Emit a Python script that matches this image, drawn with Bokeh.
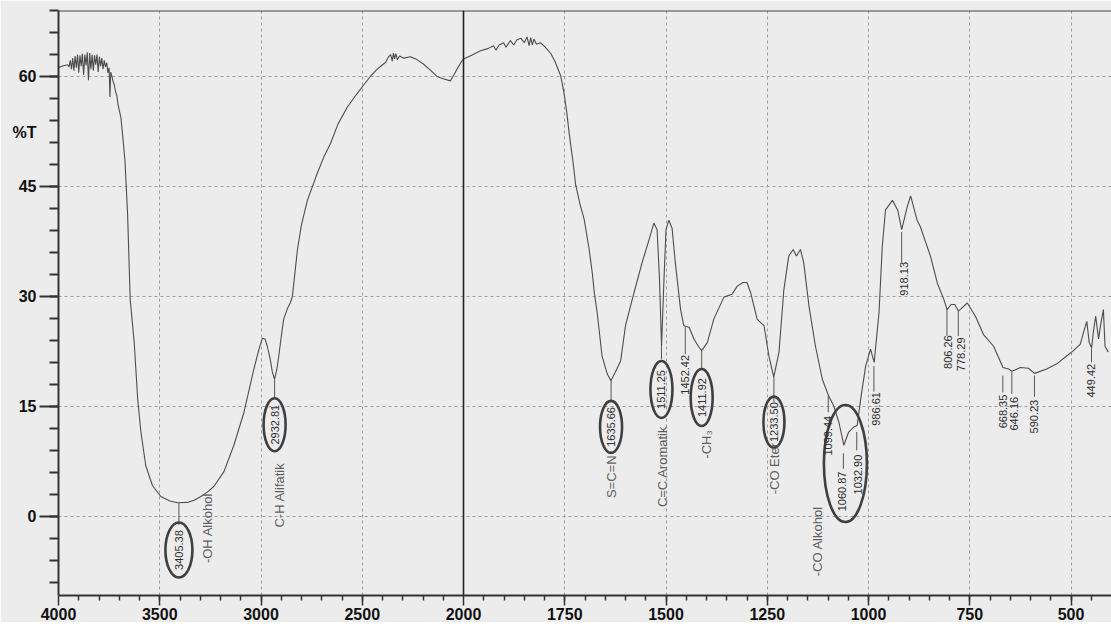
import math
from bokeh.plotting import figure
from bokeh.models import Range1d, FixedTicker, Span, LinearAxis
from bokeh.core.properties import value
from bokeh.embed import file_html
from bokeh.resources import INLINE

# ---------------- data ----------------
wavenumber = [
    4000, 3985, 3970, 3955, 3948, 3942, 3936, 3930, 3924, 3918, 3912, 3906, 3900, 3894,
    3888, 3882, 3876, 3870, 3864, 3858, 3852, 3846, 3840, 3834, 3828, 3822, 3816, 3810,
    3804, 3798, 3792, 3786, 3780, 3774, 3768, 3762, 3756, 3750, 3746, 3742, 3736, 3730,
    3724, 3718, 3712, 3706, 3700, 3692, 3684, 3672, 3659, 3646, 3626, 3609, 3593, 3569,
    3536, 3495, 3450, 3412, 3363, 3330, 3297, 3265, 3232, 3183, 3134, 3084, 3035, 3010,
    2993, 2980, 2969, 2955, 2944, 2933, 2922, 2912, 2900, 2888, 2870, 2854, 2845, 2820,
    2800, 2771, 2722, 2690, 2656, 2620, 2574, 2530, 2494, 2460, 2426, 2400, 2385, 2372,
    2360, 2352, 2346, 2341, 2334, 2327, 2316, 2295, 2262, 2230, 2198, 2165, 2131, 2100,
    2065, 2050, 2032, 2015, 2000, 1980, 1958, 1940, 1926, 1920, 1912, 1901, 1895, 1884,
    1876, 1868, 1858, 1850, 1843, 1838, 1834, 1830, 1826, 1820, 1810, 1800, 1790, 1784,
    1773, 1768, 1760, 1752, 1745, 1739, 1730, 1723, 1712, 1702, 1690, 1682, 1677, 1670,
    1658, 1645, 1636, 1625, 1612, 1600, 1579, 1559, 1542, 1530, 1522, 1516, 1511, 1505,
    1500, 1493, 1485, 1477, 1464, 1456, 1443, 1431, 1419, 1412, 1398, 1382, 1357, 1337,
    1324, 1310, 1300, 1291, 1275, 1258, 1246, 1234, 1221, 1209, 1197, 1186, 1178, 1168,
    1160, 1147, 1131, 1114, 1099, 1086, 1073, 1061, 1049, 1036, 1028, 1018, 1007, 995,
    986, 974, 966, 958, 941, 928, 918, 904, 896, 880, 872, 847, 830, 814,
    806, 796, 787, 778, 756, 736, 716, 691, 668, 654, 646, 625, 605, 590,
    560, 535, 510, 494, 477, 469, 461, 455, 449, 445, 439, 432, 426, 420,
    416, 408,
]
transmittance = [
    61.2, 61.4, 61.5, 61.6, 61.3, 62.2, 61.0, 62.5, 60.8, 62.8, 61.2, 63.0, 60.5, 62.9,
    61.4, 63.1, 60.2, 63.0, 61.5, 63.3, 59.5, 63.2, 61.0, 63.0, 60.8, 62.9, 61.6, 63.0,
    60.6, 62.7, 61.4, 62.5, 61.0, 62.2, 61.3, 61.9, 60.5, 61.2, 57.2, 60.6, 60.0, 59.3,
    58.8, 57.9, 57.4, 56.2, 55.4, 54.4, 52.2, 48.6, 41.4, 29.6, 23.7, 16.0, 11.5, 6.9,
    4.2, 2.7, 2.1, 1.85, 1.9, 2.2, 2.7, 3.3, 4.1, 6.1, 9.7, 14.2, 20.1, 22.8,
    24.3, 24.2, 23.2, 21.5, 19.7, 18.7, 20.0, 21.9, 24.5, 26.9, 28.3, 29.2, 30.0, 36.4,
    39.8, 43.1, 46.8, 49.0, 50.9, 53.5, 55.8, 57.5, 58.8, 60.0, 61.0, 61.6, 61.9, 62.6,
    63.0, 62.1, 63.2, 62.4, 63.1, 62.3, 62.8, 62.5, 62.7, 62.3, 61.7, 60.9, 60.0, 59.7,
    59.4, 60.1, 61.0, 61.8, 62.4, 62.9, 63.5, 63.8, 64.2, 63.6, 64.3, 64.6, 64.0, 64.9,
    64.3, 65.0, 65.2, 64.6, 65.4, 64.2, 65.3, 64.3, 65.1, 64.4, 64.6, 64.1, 63.5, 63.1,
    61.9, 61.2, 60.1, 57.8, 55.1, 52.2, 48.5, 45.2, 42.5, 40.5, 36.5, 33.2, 30.5, 27.8,
    21.9, 19.4, 18.5, 19.7, 21.2, 26.0, 30.5, 34.6, 37.7, 40.0, 39.1, 32.3, 23.2, 32.3,
    39.1, 40.4, 39.3, 34.6, 28.2, 26.0, 25.8, 24.2, 23.1, 22.6, 23.7, 26.9, 29.9, 30.3,
    31.4, 31.9, 31.9, 30.5, 26.9, 26.0, 21.9, 19.0, 22.4, 30.9, 35.5, 36.4, 35.5, 36.4,
    34.6, 28.7, 23.2, 18.7, 16.5, 15.1, 12.8, 9.7, 11.5, 12.2, 12.4, 16.5, 20.5, 22.8,
    21.0, 27.8, 36.8, 41.8, 43.1, 41.8, 39.1, 42.3, 43.7, 40.4, 39.5, 35.5, 31.8, 29.6,
    28.2, 28.9, 28.9, 28.0, 29.1, 27.3, 24.8, 23.2, 20.3, 20.1, 19.8, 20.3, 20.2, 19.5,
    20.1, 20.8, 21.9, 22.6, 23.5, 25.1, 26.6, 23.7, 23.0, 25.1, 27.3, 24.2, 26.4, 28.2,
    23.2, 22.4,
]

x_tick_labels = [4000, 3500, 3000, 2500, 2000, 1750, 1500, 1250, 1000, 750, 500]
y_tick_labels = [0, 15, 30, 45, 60]
y_title = "%T"
y_title_at = 52.4

# peak labels: text, x (cm-1), y centre (%T)
peak_text = ["3405.38", "2932.81", "1635.66", "1511.25", "1411.92", "1233.50",
             "1452.42", "1099.44", "1060.87", "1032.90", "986.61", "918.13",
             "806.26", "778.29", "668.35", "646.16", "590.23", "449.42"]
peak_x = [3405.38, 2932.81, 1635.66, 1511.25, 1411.92, 1233.50,
          1452.42, 1099.44, 1064.9, 1026.4, 982.7, 913.0,
          804.0, 771.0, 668.35, 640.0, 590.23, 449.42]
peak_y = [-4.6, 12.5, 12.2, 17.3, 16.2, 12.85,
          19.3, 11.0, 3.4, 5.7, 14.65, 32.4,
          22.4, 22.1, 14.3, 14.0, 13.6, 18.5]

# circled labels (ellipse sizes in screen px)
ring_x = [3405.38, 2932.81, 1635.66, 1511.25, 1411.92, 1233.50, 1057.0]
ring_y = [-4.6, 12.5, 12.2, 17.3, 16.2, 12.85, 7.2]
ring_w = [27, 22, 22, 22, 22, 21, 43]
ring_h = [55, 53, 52, 57, 57, 51, 117]

# leader lines: x, y from curve, y to label
lead_x = [3405.38, 2932.81, 1635.66, 1511.25, 1452.42, 1411.92, 1233.50, 1099.44,
          1062.0, 1029.0, 986.61, 918.13, 806.26, 778.29, 668.35, 646.16, 590.23, 449.42]
lead_y0 = [1.8, 18.7, 18.5, 23.2, 25.8, 22.6, 19.0, 16.5,
           8.6, 11.5, 20.5, 38.8, 28.2, 28.0, 19.2, 19.7, 19.2, 23.0]
lead_y1 = [-1.2, 16.0, 15.6, 21.4, 22.1, 20.1, 15.6, 14.2,
           6.5, 9.0, 17.0, 34.6, 24.6, 24.6, 16.9, 16.7, 16.3, 21.0]

# functional group labels
group_text = ["-OH Alkohol", "C-H Alifatik", "S=C=N", "C=C Aromatik", "-CH₃", "-CO Eter", "-CO Alkohol"]
group_x = [3264, 2911, 1635.5, 1509, 1400.7, 1231.4, 1126.7]
group_y = [-1.6, 2.9, 5.4, 6.8, 9.8, 6.5, -3.4]


# the recorder changes its x scale at 2000 cm-1 (scale doubles below 2000)
def pos(wn):
    return (4000 - wn) if wn >= 2000 else 2000 + (2000 - wn) * 2


BG = "#ececec"
FONT = "Liberation Sans"
INK = "#333333"

p = figure(frame_width=1053, frame_height=585, output_backend="svg", toolbar_location=None,
           x_range=Range1d(0, 5200), y_range=Range1d(-10.8, 69),
           min_border_left=58, min_border_right=0, min_border_top=10, min_border_bottom=0,
           background_fill_color=BG, border_fill_color=BG, outline_line_color=None)

# x axis
xa = p.xaxis[0]
xa.ticker = FixedTicker(
    ticks=[pos(w) for w in x_tick_labels],
    minor_ticks=[pos(w) for w in range(3900, 2000, -100)] + [pos(w) for w in range(1950, 400, -50)])
xa.major_label_overrides = {pos(w): str(w) for w in x_tick_labels}
xa.axis_line_width = 2
xa.axis_line_color = INK
xa.major_tick_line_color = INK
xa.minor_tick_line_color = INK
xa.major_tick_line_width = 1.5
xa.minor_tick_line_width = 1.5
xa.major_tick_in = 0
xa.major_tick_out = 10
xa.minor_tick_in = 0
xa.minor_tick_out = 5
xa.major_label_standoff = 2
xa.major_label_text_font = FONT
xa.major_label_text_font_style = "bold"
xa.major_label_text_font_size = "16px"
xa.major_label_text_color = "#111111"

# y axis: tick marks only
ya = p.yaxis[0]
ya.ticker = FixedTicker(ticks=y_tick_labels, minor_ticks=list(range(-9, 70, 3)))
ya.major_label_overrides = {v: "" for v in y_tick_labels}
ya.axis_line_width = 2
ya.axis_line_color = INK
ya.major_tick_line_color = INK
ya.minor_tick_line_color = INK
ya.major_tick_line_width = 2
ya.minor_tick_line_width = 2
ya.major_tick_in = 0
ya.major_tick_out = 19
ya.minor_tick_in = 0
ya.minor_tick_out = 9
ya.major_label_standoff = 0

# y labels (numbers and %T), printed next to the ticks
labels = {v: str(v) for v in y_tick_labels}
labels[y_title_at] = y_title
la = LinearAxis(ticker=FixedTicker(ticks=y_tick_labels + [y_title_at], minor_ticks=[]),
                major_label_overrides=labels,
                axis_line_color=None, major_tick_line_color=None, minor_tick_line_color=None,
                major_tick_in=0, major_tick_out=0, minor_tick_in=0, minor_tick_out=0,
                major_label_standoff=3, major_label_text_font=FONT,
                major_label_text_font_style="bold", major_label_text_font_size="16px",
                major_label_text_color="#111111")
p.add_layout(la, "left")

for g in (p.xgrid[0], p.ygrid[0]):
    g.grid_line_color = "#9c9c9c"
    g.grid_line_dash = "3 3"
    g.grid_line_width = 1

# frame top and the scale-change line at 2000
p.add_layout(Span(location=69, dimension="width", line_color="#444444", line_width=2))
p.add_layout(Span(location=pos(2000), dimension="height", line_color="#222222", line_width=1.6))

# spectrum
p.line([pos(w) for w in wavenumber], transmittance, line_color="#4d4d4d", line_width=1.1)

# leader lines
lx = [pos(w) for w in lead_x]
p.segment(x0=lx, y0=lead_y0, x1=lx, y1=lead_y1, line_color="#555555", line_width=1)

# ellipses around labels
p.ellipse(x=[pos(w) for w in ring_x], y=ring_y, width=ring_w, height=ring_h,
          width_units="screen", height_units="screen",
          fill_color=None, line_color="#3f3f3f", line_width=2.6)

# peak numbers
p.text(x=[pos(w) for w in peak_x], y=peak_y, text=peak_text, angle=math.pi / 2,
       text_align="center", text_baseline="middle", text_font=value(FONT),
       text_font_size="11px", text_color="#2e2e2e")

# group labels
p.text(x=[pos(w) for w in group_x], y=group_y, text=group_text, angle=math.pi / 2,
       text_align="center", text_baseline="middle", text_font=value(FONT),
       text_font_size="13px", text_color="#5e5e5e")

open("out.html", "w").write(file_html(p, INLINE))
